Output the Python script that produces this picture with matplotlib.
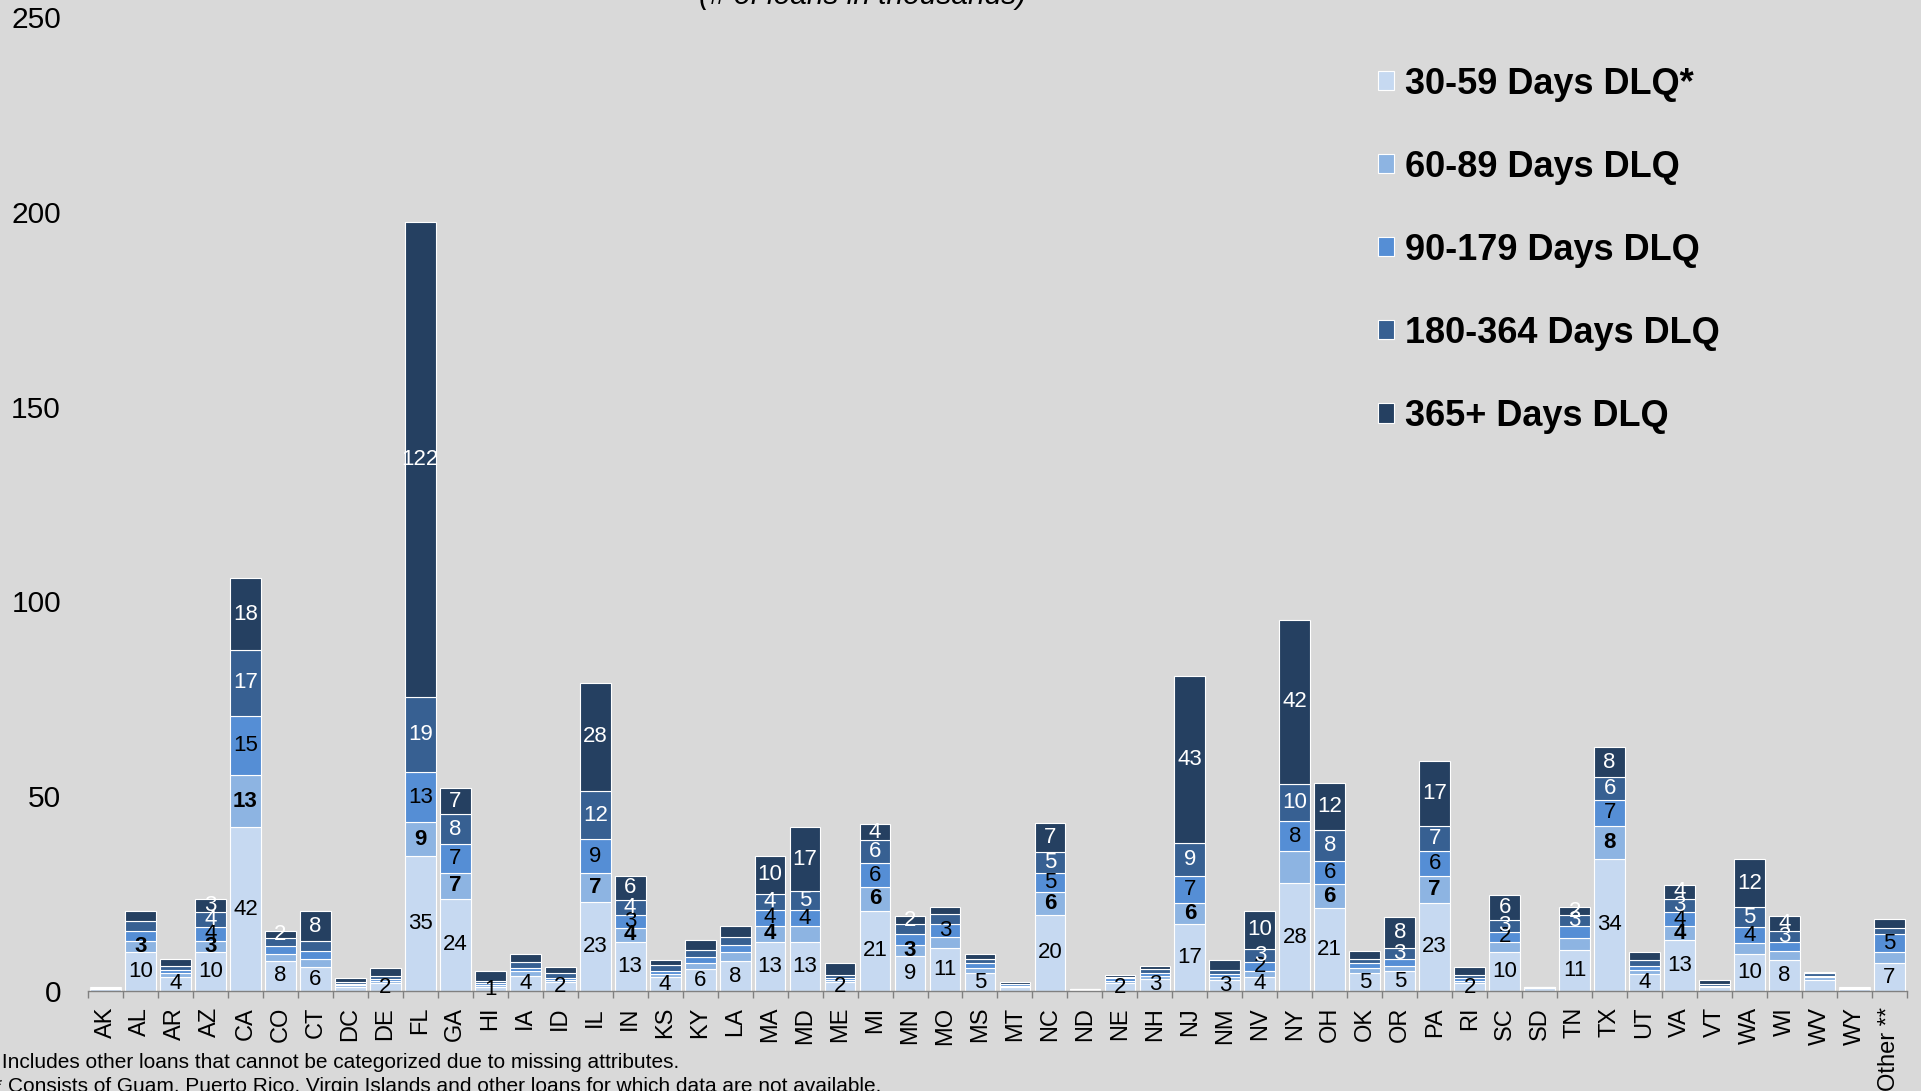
import numpy as np
import matplotlib
matplotlib.use('Agg')
import matplotlib.pyplot as plt

plt.rcParams['font.family'] = ['Liberation Sans', 'DejaVu Sans']

states = ['AK', 'AL', 'AR', 'AZ', 'CA', 'CO', 'CT', 'DC', 'DE', 'FL', 'GA', 'HI', 'IA',
          'ID', 'IL', 'IN', 'KS', 'KY', 'LA', 'MA', 'MD', 'ME', 'MI', 'MN', 'MO', 'MS',
          'MT', 'NC', 'ND', 'NE', 'NH', 'NJ', 'NM', 'NV', 'NY', 'OH', 'OK', 'OR', 'PA',
          'RI', 'SC', 'SD', 'TN', 'TX', 'UT', 'VA', 'VT', 'WA', 'WI', 'WV', 'WY', 'Other **']

series = ['30-59 Days DLQ*', '60-89 Days DLQ', '90-179 Days DLQ',
          '180-364 Days DLQ', '365+ Days DLQ']

# loans in thousands (same order as states)
dlq_30_59 = [0.6, 10, 3.6, 10, 42, 7.7, 6.1, 1.1, 2.0, 34.6, 23.6, 1.0, 3.9,
             2.2, 22.8, 12.6, 3.5, 5.6, 7.6, 12.6, 12.6, 2.4, 20.6, 9.1, 10.9, 4.5,
             1.0, 19.6, 0.35, 2.0, 3.1, 17.1, 2.9, 3.7, 27.6, 21.2, 4.5, 5.0, 22.6,
             2.0, 9.9, 0.8, 10.6, 34.0, 4.3, 13.1, 0.9, 9.6, 7.9, 2.8, 0.6, 7.1]
dlq_60_89 = [0.1, 2.9, 0.9, 2.9, 13.4, 1.7, 2.0, 0.5, 0.6, 8.8, 6.8, 0.5, 1.1,
             0.6, 7.4, 3.6, 0.9, 1.5, 2.3, 4.1, 4.1, 0.5, 6.1, 2.7, 3.0, 1.5,
             0.4, 5.7, 0.05, 0.6, 0.8, 5.6, 0.7, 1.5, 8.2, 6.2, 1.3, 1.5, 6.9,
             0.6, 2.7, 0.1, 3.0, 8.4, 1.1, 3.5, 0.3, 2.8, 2.3, 0.7, 0.1, 2.8]
dlq_90_179 = [0.1, 2.5, 0.8, 3.6, 15.3, 2.2, 2.2, 0.3, 0.5, 12.7, 7.3, 0.5, 0.9,
              0.6, 8.7, 3.2, 0.8, 1.5, 1.9, 4.2, 4.0, 0.5, 6.1, 2.8, 3.2, 1.1,
              0.3, 5.1, 0.05, 0.6, 0.7, 6.7, 0.8, 2.2, 7.7, 6.0, 1.3, 1.8, 6.3,
              0.6, 2.5, 0.1, 3.0, 6.6, 1.1, 3.7, 0.2, 3.9, 2.3, 0.4, 0.1, 4.7]
dlq_180_364 = [0.05, 2.6, 1.2, 3.8, 16.9, 2.0, 2.5, 0.3, 0.8, 19.4, 7.6, 0.6, 1.5,
               1.3, 12.4, 4.0, 1.5, 1.8, 2.0, 4.1, 4.9, 0.8, 5.9, 2.6, 2.6, 1.1,
               0.2, 5.2, 0.03, 0.5, 1.0, 8.7, 1.1, 3.4, 9.6, 7.9, 1.2, 2.8, 6.6,
               0.9, 3.2, 0.05, 2.9, 6.0, 1.4, 3.3, 0.3, 5.3, 3.0, 0.6, 0.05, 1.5]
dlq_365 = [0.05, 2.5, 1.8, 3.4, 18.3, 1.7, 7.6, 1.0, 1.9, 122.0, 6.7, 2.6, 2.0,
           1.4, 27.8, 6.2, 1.2, 2.6, 2.8, 9.7, 16.5, 2.9, 4.1, 2.0, 1.9, 1.3,
           0.3, 7.4, 0.04, 0.5, 0.9, 42.7, 2.4, 9.8, 42.2, 12.1, 2.0, 7.9, 16.7,
           2.0, 6.3, 0.05, 2.0, 7.5, 2.0, 3.7, 1.1, 12.2, 3.7, 0.4, 0.05, 2.3]

# data labels that are shown on the chart
lab_30_59 = {'AL': '10', 'AR': '4', 'AZ': '10', 'CA': '42', 'CO': '8', 'CT': '6', 'DE': '2',
             'FL': '35', 'GA': '24', 'HI': '1', 'IA': '4', 'ID': '2', 'IL': '23', 'IN': '13',
             'KS': '4', 'KY': '6', 'LA': '8', 'MA': '13', 'MD': '13', 'ME': '2', 'MI': '21',
             'MN': '9', 'MO': '11', 'MS': '5', 'NC': '20', 'NE': '2', 'NH': '3', 'NJ': '17',
             'NM': '3', 'NV': '4', 'NY': '28', 'OH': '21', 'OK': '5', 'OR': '5', 'PA': '23',
             'RI': '2', 'SC': '10', 'TN': '11', 'TX': '34', 'UT': '4', 'VA': '13', 'WA': '10',
             'WI': '8', 'Other **': '7'}
lab_60_89 = {'AL': '3', 'AZ': '3', 'CA': '13', 'FL': '9', 'GA': '7', 'IL': '7', 'IN': '4',
             'MA': '4', 'MI': '6', 'MN': '3', 'NC': '6', 'NJ': '6', 'OH': '6', 'PA': '7',
             'TX': '8', 'VA': '4'}
lab_90_179 = {'AZ': '4', 'CA': '15', 'FL': '13', 'GA': '7', 'IL': '9', 'IN': '3', 'MA': '4',
              'MD': '4', 'MI': '6', 'MO': '3', 'NC': '5', 'NJ': '7', 'NV': '2', 'NY': '8',
              'OH': '6', 'PA': '6', 'SC': '2', 'TX': '7', 'VA': '4', 'WA': '4', 'Other **': '5'}
lab_180_364 = {'AZ': '4', 'CA': '17', 'FL': '19', 'GA': '8', 'IL': '12', 'IN': '4', 'MA': '4',
               'MD': '5', 'MI': '6', 'NC': '5', 'NJ': '9', 'NV': '3', 'NY': '10', 'OH': '8',
               'OR': '3', 'PA': '7', 'SC': '3', 'TN': '3', 'TX': '6', 'VA': '3', 'WA': '5',
               'WI': '3'}
lab_365 = {'AZ': '3', 'CA': '18', 'CO': '2', 'CT': '8', 'FL': '122', 'GA': '7', 'IL': '28',
           'IN': '6', 'MA': '10', 'MD': '17', 'MI': '4', 'MN': '2', 'NC': '7', 'NJ': '43',
           'NV': '10', 'NY': '42', 'OH': '12', 'OR': '8', 'PA': '17', 'SC': '6', 'TN': '2',
           'TX': '8', 'VA': '4', 'WA': '12', 'WI': '4'}

values = [dlq_30_59, dlq_60_89, dlq_90_179, dlq_180_364, dlq_365]
labels = [lab_30_59, lab_60_89, lab_90_179, lab_180_364, lab_365]
colors = ['#C6D9F1', '#8DB4E2', '#558ED5', '#376092', '#254061']
txt_colors = ['black', 'black', 'black', 'white', 'white']
txt_weights = ['normal', 'bold', 'normal', 'normal', 'normal']

bg = '#D9D9D9'
fig = plt.figure(figsize=(19.21, 10.91), dpi=100, facecolor=bg)
ax = fig.add_axes([0.0458, 0.0917, 0.9469, 0.8927])
ax.set_facecolor(bg)

x = np.arange(len(states))
bottom = np.zeros(len(states))
for vals, labs, name, c, tc, tw in zip(values, labels, series, colors, txt_colors, txt_weights):
    bars = ax.bar(x, vals, 0.88, bottom=bottom, color=c, edgecolor='white',
                  linewidth=0.8, label=name)
    ax.bar_label(bars, labels=[labs.get(s, '') for s in states], label_type='center',
                 color=tc, fontsize=16, fontweight=tw)
    bottom += np.array(vals)

ax.set_xlim(-0.5, len(states) - 0.5)
ax.set_ylim(0, 250)
ax.set_yticks(range(0, 251, 50))
ax.set_xticks(x)
ax.set_xticklabels(states, rotation=90)
ax.set_xticks(np.arange(-0.5, len(states)), minor=True)
ax.tick_params(axis='x', which='major', length=0, pad=11.5, labelsize=17)
ax.tick_params(axis='x', which='minor', length=5, width=1, color='#808080')
ax.tick_params(axis='y', length=0, pad=19.5, labelsize=21.5)
for side in ['top', 'right', 'left']:
    ax.spines[side].set_visible(False)
ax.spines['bottom'].set_color('#808080')
ax.spines['bottom'].set_linewidth(1)

ax.legend(loc='upper left', bbox_to_anchor=(0.7173, 0.939), bbox_transform=fig.transFigure,
          frameon=False, prop={'size': 26, 'weight': 'bold'}, handlelength=0.45,
          handleheight=0.45, handletextpad=0.3, labelspacing=1.33, borderpad=0,
          borderaxespad=0)

fig.text(0.449, 0.9963, '(# of loans in thousands)', ha='center', va='baseline',
         fontsize=21.5, style='italic')
fig.text(-0.0062, 0.0257, '* Includes other loans that cannot be categorized due to missing attributes.',
         va='center', fontsize=15)
fig.text(-0.0075, 0.0037, '** Consists of Guam, Puerto Rico, Virgin Islands and other loans for which data are not available.',
         va='center', fontsize=15)

fig.savefig('out.png', dpi=100, facecolor=bg)
